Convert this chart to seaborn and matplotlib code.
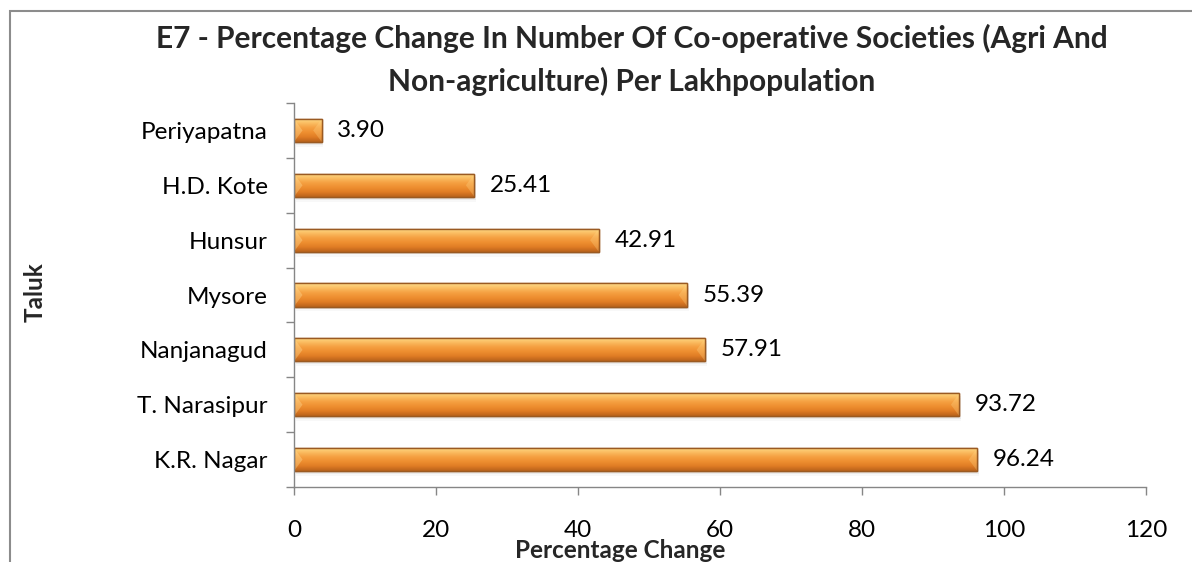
import numpy as np
import pandas as pd
import matplotlib
matplotlib.use("Agg")
import matplotlib.pyplot as plt
import seaborn as sns
from matplotlib.patches import Rectangle, Polygon
from matplotlib.colors import LinearSegmentedColormap

taluks = ["Periyapatna", "H.D. Kote", "Hunsur", "Mysore", "Nanjanagud", "T. Narasipur", "K.R. Nagar"]
values = [3.90, 25.41, 42.91, 55.39, 57.91, 93.72, 96.24]
xticks = [0, 20, 40, 60, 80, 100, 120]

title = "E7 - Percentage Change In Number Of Co-operative Societies (Agri And\nNon-agriculture) Per Lakhpopulation"
xlabel = "Percentage Change"
ylabel = "Taluk"

sns.set_theme(style="white")
plt.rcParams['font.family'] = ['Lato', 'DejaVu Sans']

df = pd.DataFrame({"Taluk": taluks, "Value": values})

W, H = 1192, 562
fig = plt.figure(figsize=(W / 100, H / 100), dpi=100)
ax = fig.add_axes([294 / W, 1 - 487 / H, (1146 - 294) / W, (487 - 103) / H])

sns.barplot(data=df, x="Value", y="Taluk", orient="h", ax=ax, color="#F0922F",
            width=0.42, edgecolor="#9A5A22", linewidth=1.0)

ax.set_xlim(0, 120)
ax.set_ylim(len(taluks) - 0.5, -0.5)

grad_colors = ["#FEDC8C", "#FBBE62", "#F5A042", "#EE8F30", "#E07C24", "#B9621B"]
cmap = LinearSegmentedColormap.from_list("bar", grad_colors)
grad = np.linspace(0, 1, 64).reshape(-1, 1)

for p in list(ax.patches):
    x0, y0 = p.get_x(), p.get_y()
    w, h = p.get_width(), p.get_height()
    z = p.get_zorder()
    # soft shadow
    for k, a in [(0.05, 0.10), (0.09, 0.06)]:
        sh = Rectangle((x0 + 0.25, y0 + k), w, h, facecolor="#888888", edgecolor="none",
                       alpha=a, zorder=z - 0.5)
        ax.add_patch(sh)
    im = ax.imshow(grad, cmap=cmap, aspect="auto", origin="upper",
                   extent=(x0, x0 + w, y0 + h, y0), zorder=z + 0.1,
                   interpolation="bicubic")
    im.set_clip_path(p)
    # subtle bevels at the bar ends
    bw = min(1.2, w / 3)
    left_bevel = Polygon([(x0, y0), (x0 + bw, y0 + h * 0.5), (x0, y0 + h)], closed=True,
                         facecolor="#FFE3A0", edgecolor="none", alpha=0.35, zorder=z + 0.15)
    right_bevel = Polygon([(x0 + w, y0), (x0 + w - bw, y0 + h * 0.5), (x0 + w, y0 + h)],
                          closed=True, facecolor="#FFD88A", edgecolor="none", alpha=0.30,
                          zorder=z + 0.15)
    ax.add_patch(left_bevel)
    ax.add_patch(right_bevel)
    edge = Rectangle((x0, y0), w, h, facecolor="none", edgecolor="#9A5A22",
                     linewidth=1.0, zorder=z + 0.2)
    ax.add_patch(edge)

ax.set_xlim(0, 120)
ax.set_ylim(len(taluks) - 0.5, -0.5)

for i, v in enumerate(values):
    ax.text(v + 2.2, i, f"{v:.2f}", va="center", ha="left", fontsize=17.5, color="black")

ax.set_xticks(xticks)
ax.set_xticklabels([str(t) for t in xticks])
ax.set_yticks(range(len(taluks)))
ax.set_yticklabels(taluks)
ax.set_yticks(np.arange(-0.5, len(taluks), 1.0), minor=True)
ax.tick_params(axis="y", which="major", length=0, pad=19, labelsize=17.5, colors="black")
ax.tick_params(axis="y", which="minor", length=6, width=1, color="#868686", left=True)
ax.tick_params(axis="x", which="major", length=6, width=1, color="#868686", pad=18,
               labelsize=17.5, labelcolor="black", bottom=True)
ax.set_xlabel("")
ax.set_ylabel("")

for s in ["top", "right"]:
    ax.spines[s].set_visible(False)
for s in ["left", "bottom"]:
    ax.spines[s].set_color("#868686")
    ax.spines[s].set_linewidth(1.0)

fig.text(632 / W, 1 - 60 / H, title, ha="center", va="center", fontsize=21.5,
         fontweight="bold", linespacing=1.6)
fig.text(620 / W, 1 - 551 / H, xlabel, ha="center", va="center", fontsize=17.5,
         fontweight="bold")
fig.text(35 / W, 1 - 292 / H, ylabel, ha="center", va="center", rotation=90,
         fontsize=17.5, fontweight="bold")

border = Rectangle((10 / W, -0.05), 1.1, 1 - 11 / H + 0.05, transform=fig.transFigure,
                   facecolor="none", edgecolor="#8C8C8C", linewidth=1.5)
fig.patches.append(border)

fig.savefig("out.png", dpi=100)
